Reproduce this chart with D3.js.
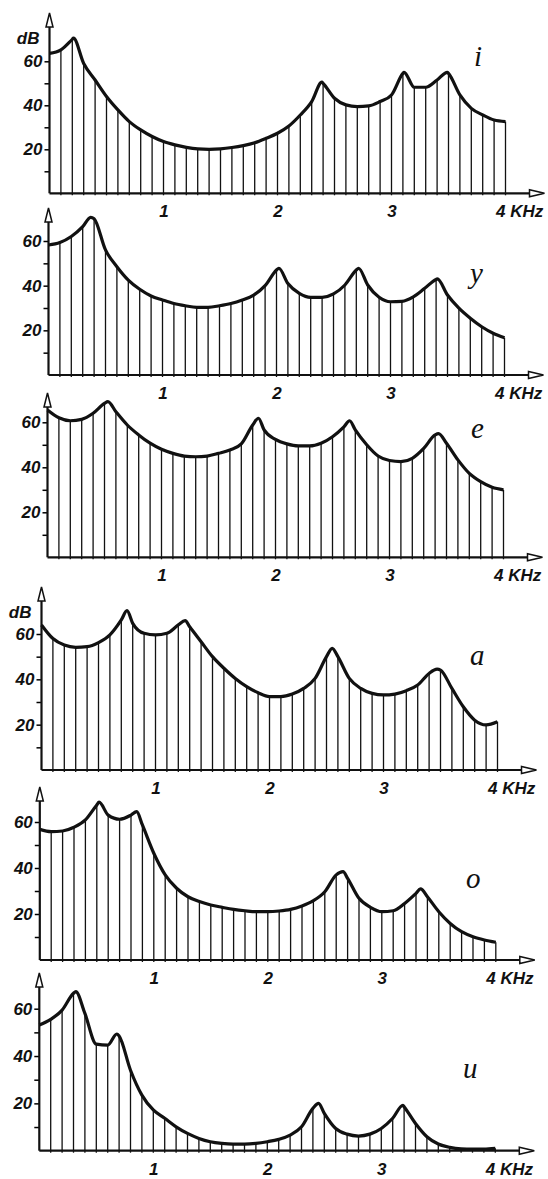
<!DOCTYPE html>
<html>
<head>
<meta charset="utf-8">
<script src="https://cdn.jsdelivr.net/npm/d3@7"></script>
<style>
  body { margin: 0; background: #fff; }
  svg { display: block; }
  .axis text, .lbl { font-family: "Liberation Sans Narrow", "Liberation Sans", sans-serif; font-style: italic; font-weight: bold; font-size: 17px; fill: #111; }
  .vowel { font-family: "Liberation Serif", serif; font-style: italic; font-size: 29px; fill: #111; }
</style>
</head>
<body>
<svg id="chart"></svg>
<script>
// harmonic frequencies (kHz), one vertical line each
const harmonics = [0, 0.1, 0.2, 0.3, 0.4, 0.5, 0.6, 0.7, 0.8, 0.9, 1.0, 1.1, 1.2, 1.3, 1.4, 1.5, 1.6, 1.7, 1.8, 1.9, 2.0,
  2.1, 2.2, 2.3, 2.4, 2.5, 2.6, 2.7, 2.8, 2.9, 3.0, 3.1, 3.2, 3.3, 3.4, 3.5, 3.6, 3.7, 3.8, 3.9, 4.0];

const vowels = ['i', 'y', 'e', 'a', 'o', 'u'];
const xTicks = [1, 2, 3, 4];
const yTicks = [10, 20, 30, 40, 50, 60];

// level (dB) at each harmonic
const iLevels = [63.6, 65.2, 70, 59, 51.5, 44, 37.9, 32.6, 28.8, 25.8, 23.5, 22, 20.9, 20.2, 20, 20.2, 20.8, 21.7, 23, 25, 27.3,
  30.6, 35.6, 41.7, 50, 43.2, 40.2, 39.4, 39.7, 41.7, 44.7, 54.5, 48.2, 48.2, 51.5, 54.5, 44.7, 38.6, 35.6, 33.3, 32.6];
const yLevels = [58.2, 59.3, 62, 66.4, 70, 56, 48.5, 42.5, 38.4, 35.4, 33.6, 32, 31, 30.3, 30.3, 31, 32, 33.6, 35.8, 40, 47,
  41, 36.6, 34.8, 34.8, 36.3, 40.3, 47, 40.3, 34.8, 32.8, 33, 35, 38.8, 42.8, 35.8, 29.9, 25.4, 21.6, 18.7, 16.7];
const eLevels = [65.5, 62, 60.7, 61.3, 64, 68.4, 64.7, 58.8, 54.4, 50.7, 48, 46.2, 45, 44.7, 45, 46.2, 47.7, 50.4, 58.8, 56.6, 52.4,
  50.4, 49.5, 49.5, 50.7, 53.6, 58, 56.6, 50, 45, 43, 42.5, 44, 48.4, 54.4, 50.7, 43.3, 37.3, 33.6, 31.1, 30];
const aLevels = [64, 58, 55.1, 54.1, 54.4, 56.2, 59.6, 66.2, 64.7, 60.3, 59.6, 60.3, 64, 63.2, 56.6, 50, 44.9, 40.4, 36.8, 34.1, 32.4,
  32.4, 33.5, 36, 40.4, 50, 50, 40.4, 36, 33.8, 33.1, 33.5, 35, 37.5, 42.6, 44.1, 36, 27.9, 22, 19.9, 21.3];
const oLevels = [56.8, 55.8, 56.1, 57.7, 60.9, 67.4, 63, 61.2, 63, 58.7, 46.4, 37, 31.2, 27.5, 25.4, 23.9, 22.9, 22, 21.4, 21, 21,
  21.3, 22, 23.5, 25.8, 29.7, 37, 35.5, 26.8, 22.9, 21, 21.4, 24.6, 29, 27.5, 21, 15.9, 12.3, 10.1, 8.7, 7.7];
const uLevels = [53.1, 55.5, 59.4, 66.5, 58, 45, 44.6, 48.5, 34, 23.5, 17.2, 13.7, 10.1, 7.3, 5.2, 3.8, 3.1, 2.8, 2.8, 3.1, 3.8,
  4.8, 6.6, 10.1, 17.9, 15.8, 9.4, 7, 6.2, 7, 9.4, 13.7, 18.6, 11.5, 5.9, 2.8, 1.4, 0.8, 0.7, 0.7, 1];

// formant peaks [kHz, dB]
const iPeaks = [[0.21, 70.5], [2.39, 50.5], [3.11, 55], [3.49, 55]];
const yPeaks = [[0.37, 70.6], [2.02, 47.8], [2.72, 47.8], [3.41, 43]];
const ePeaks = [[0.53, 69.2], [1.85, 61.8], [2.65, 60.7], [3.43, 55]];
const aPeaks = [[0.75, 70.3], [1.26, 65.9], [2.55, 53.7], [3.47, 44.5]];
const oPeaks = [[0.52, 68.6], [0.85, 64.5], [2.66, 38.4], [3.34, 30.9]];
const uPeaks = [[0.32, 67.2], [0.68, 49.3], [2.45, 20], [3.19, 19.2]];

const levels = [iLevels, yLevels, eLevels, aLevels, oLevels, uLevels];
const peaks = [iPeaks, yPeaks, ePeaks, aPeaks, oPeaks, uPeaks];

// page layout of the six stacked panels
const layout = [
  {x0: 49.5, base: 193.3, y60: 61.3, top: 13, dB: true, vx: 474, vy: 66},
  {x0: 48.5, base: 375, y60: 241, top: 208, dB: false, vx: 470, vy: 283},
  {x0: 47.5, base: 557.3, y60: 422.3, top: 393, dB: false, vx: 471, vy: 438},
  {x0: 41.5, base: 770, y60: 634, top: 587, dB: true, vx: 470, vy: 665},
  {x0: 39.8, base: 960, y60: 822, top: 787, dB: false, vx: 466, vy: 888},
  {x0: 39.3, base: 1150.7, y60: 1008.7, top: 973, dB: false, vx: 463, vy: 1078}
];

const svg = d3.select('#chart').attr('width', 548).attr('height', 1179);

class SpectrumPanel {
  constructor(_config, _levels, _peaks) {
    this.config = _config;
    this.levels = _levels;
    this.peaks = _peaks;
    this.initVis();
  }

  initVis() {
    let vis = this;
    const c = vis.config;

    vis.xScale = d3.scaleLinear().domain([0, 4]).range([c.x0, c.x0 + 456]);
    vis.yScale = d3.scaleLinear().domain([0, 60]).range([c.base, c.y60]);

    vis.g = svg.append('g');

    // harmonic lines
    vis.g.selectAll('.harm')
        .data(harmonics.map((f, i) => [f, vis.levels[i]]).filter(d => d[0] > 0))
      .enter().append('line')
        .attr('class', 'harm')
        .attr('x1', d => vis.xScale(d[0]))
        .attr('x2', d => vis.xScale(d[0]))
        .attr('y1', c.base + 2)
        .attr('y2', d => vis.yScale(d[1]))
        .attr('stroke', '#111')
        .attr('stroke-width', 1.3);

    // envelope
    const pts = harmonics.map((f, i) => [f, vis.levels[i]]).concat(vis.peaks)
        .sort((a, b) => a[0] - b[0]);
    const line = d3.line()
        .x(d => vis.xScale(d[0]))
        .y(d => vis.yScale(d[1]))
        .curve(d3.curveMonotoneX);
    vis.g.append('path')
        .datum(pts)
        .attr('d', line)
        .attr('fill', 'none')
        .attr('stroke', '#111')
        .attr('stroke-width', 3.2)
        .attr('stroke-linejoin', 'round');

    // y axis with ticks
    const yAxis = d3.axisLeft(vis.yScale)
        .tickValues(yTicks)
        .tickSize(5)
        .tickPadding(2)
        .tickFormat(d => d % 20 === 0 ? d : '');
    vis.g.append('g')
        .attr('class', 'axis')
        .attr('transform', `translate(${c.x0},0)`)
        .call(yAxis)
        .call(g => g.select('.domain').remove())
        .call(g => g.selectAll('line').attr('stroke-width', 1.5));

    // x axis labels
    const xAxis = d3.axisBottom(vis.xScale)
        .tickValues(xTicks)
        .tickSize(0)
        .tickPadding(12)
        .tickFormat(d => d === 4 ? '4 KHz' : d);
    vis.g.append('g')
        .attr('class', 'axis')
        .attr('transform', `translate(0,${c.base})`)
        .call(xAxis)
        .call(g => g.select('.domain').remove())
        .call(g => g.selectAll('text').filter(d => d === 4).attr('text-anchor', 'start').attr('dx', -10));

    // axis lines with hollow arrows
    const xEnd = c.x0 + 495;
    vis.g.append('line')
        .attr('x1', c.x0).attr('x2', c.x0)
        .attr('y1', c.base).attr('y2', c.top + 3)
        .attr('stroke', '#111').attr('stroke-width', 2.2);
    vis.g.append('line')
        .attr('x1', c.x0).attr('x2', xEnd - 3)
        .attr('y1', c.base).attr('y2', c.base)
        .attr('stroke', '#111').attr('stroke-width', 2.2);
    vis.g.append('path')
        .attr('d', `M${c.x0},${c.top} L${c.x0 - 3.5},${c.top + 14} L${c.x0 + 3.5},${c.top + 14} Z`)
        .attr('fill', '#fff').attr('stroke', '#111').attr('stroke-width', 1.5);
    vis.g.append('path')
        .attr('d', `M${xEnd},${c.base} L${xEnd - 15},${c.base - 3.5} L${xEnd - 15},${c.base + 3.5} Z`)
        .attr('fill', '#fff').attr('stroke', '#111').attr('stroke-width', 1.5);

    if (c.dB) {
      vis.g.append('text')
          .attr('class', 'lbl')
          .attr('x', c.x0 - 10)
          .attr('y', c.top + 31)
          .attr('text-anchor', 'end')
          .text('dB');
    }

    vis.g.append('text')
        .attr('class', 'vowel')
        .attr('x', c.vx)
        .attr('y', c.vy)
        .text(c.vowel);
  }
}

layout.forEach((c, i) => {
  new SpectrumPanel(Object.assign({vowel: vowels[i]}, c), levels[i], peaks[i]);
});
</script>
</body>
</html>
